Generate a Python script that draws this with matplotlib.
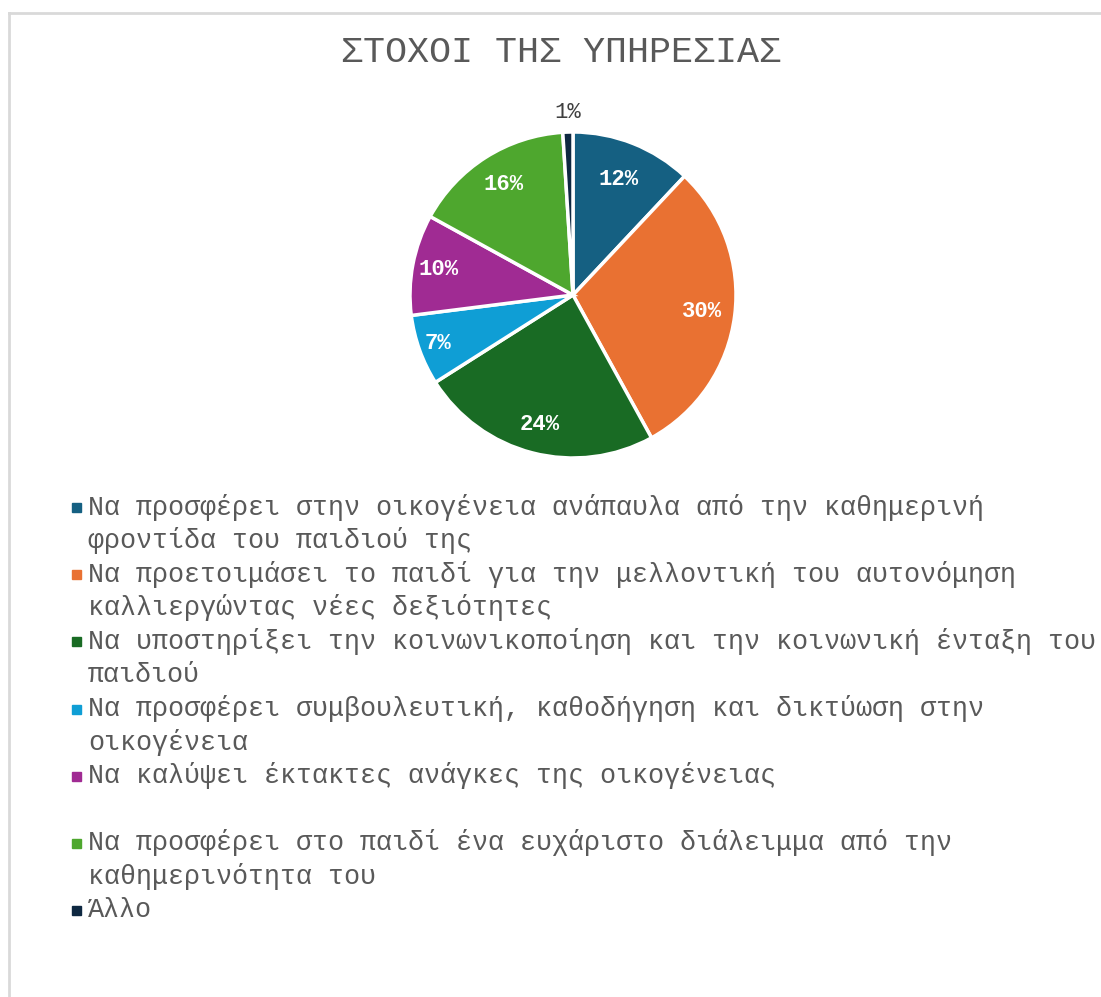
import matplotlib
matplotlib.use('Agg')
import matplotlib.pyplot as plt
from matplotlib.patches import Rectangle
import numpy as np

title = 'ΣΤΟΧΟΙ ΤΗΣ ΥΠΗΡΕΣΙΑΣ'
values = [12, 30, 24, 7, 10, 16, 1]
labels = [
    'Να προσφέρει στην οικογένεια ανάπαυλα από την καθημερινή\nφροντίδα του παιδιού της',
    'Να προετοιμάσει το παιδί για την μελλοντική του αυτονόμηση\nκαλλιεργώντας νέες δεξιότητες',
    'Να υποστηρίξει την κοινωνικοποίηση και την κοινωνική ένταξη του\nπαιδιού',
    'Να προσφέρει συμβουλευτική, καθοδήγηση και δικτύωση στην\nοικογένεια',
    'Να καλύψει έκτακτες ανάγκες της οικογένειας\n',
    'Να προσφέρει στο παιδί ένα ευχάριστο διάλειμμα από την\nκαθημερινότητα του',
    'Άλλο',
]
colors = ['#156082', '#E97132', '#196B24', '#0F9ED5', '#A02B93', '#4EA72E', '#0E2841']

# label distance from centre, as fraction of radius
label_r = [0.76, 0.80, 0.82, 0.88, 0.84, 0.80, 1.12]

W, H = 1101, 997
fig = plt.figure(figsize=(W / 100, H / 100), dpi=100)
mono = ['Liberation Mono', 'DejaVu Sans Mono']
grey = '#595959'

# chart frame (top and left edges visible)
fig.add_artist(plt.Line2D([9 / W, 1.0], [1 - 13 / H, 1 - 13 / H], color='#d9d9d9', lw=2))
fig.add_artist(plt.Line2D([9 / W, 9 / W], [1 - 13 / H, 0], color='#d9d9d9', lw=2))

fig.text(561 / W, 1 - 53 / H, title, ha='center', va='center', family=mono,
         fontsize=26.5, color=grey)

cx, cy, r = 573, 295, 163
ax = fig.add_axes([(cx - r) / W, 1 - (cy + r) / H, 2 * r / W, 2 * r / H])
wedges, _ = ax.pie(values, colors=colors, startangle=90, counterclock=False,
                   wedgeprops=dict(edgecolor='white', linewidth=2.5))
ax.set_xlim(-1, 1)
ax.set_ylim(-1, 1)
ax.set_aspect('equal')

for w, v, d in zip(wedges, values, label_r):
    ang = np.deg2rad((w.theta1 + w.theta2) / 2)
    x, y = d * np.cos(ang), d * np.sin(ang)
    if d > 1:
        ax.text(x, y, '%d%%' % v, ha='center', va='center', family=mono,
                fontsize=16, color='#404040')
    else:
        ax.text(x, y, '%d%%' % v, ha='center', va='center', family=mono,
                fontsize=16, fontweight='bold', color='white')

# legend, drawn line by line
line_h = 33.6
y0 = 507
k = 0
for lab, c in zip(labels, colors):
    y = y0 + k * line_h
    fig.add_artist(Rectangle((72 / W, 1 - (y + 5) / H), 9 / W, 9 / H, color=c,
                             transform=fig.transFigure))
    for i, line in enumerate(lab.split('\n')):
        fig.text(88 / W, 1 - (y + i * line_h) / H, line, ha='left', va='center',
                 family=mono, fontsize=19.3, color=grey)
    k += len(lab.split('\n'))

fig.savefig('out.png', dpi=100, facecolor='white')
